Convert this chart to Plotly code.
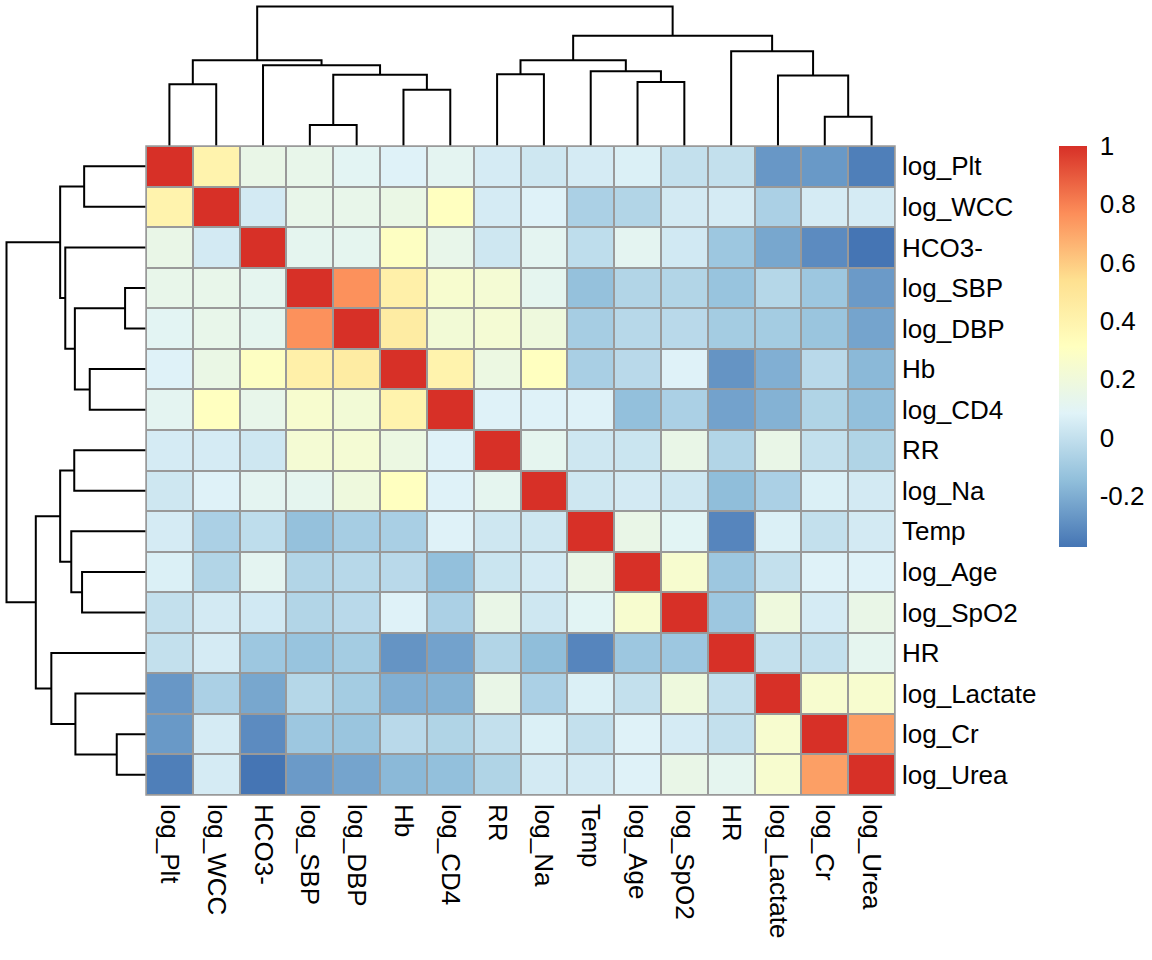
import plotly.graph_objects as go
import numpy as np

# ---------------- data ----------------
labels = ["log_Plt", "log_WCC", "HCO3-", "log_SBP", "log_DBP", "Hb", "log_CD4",
          "RR", "log_Na", "Temp", "log_Age", "log_SpO2", "HR", "log_Lactate",
          "log_Cr", "log_Urea"]

# upper triangle of the correlation matrix (row i, columns i+1..15), display order
upper = [
    [0.40, 0.15, 0.14, 0.105, 0.08, 0.11, 0.05, 0.03, 0.05, 0.07, 0.00, 0.00, -0.27, -0.265, -0.345],
    [0.045, 0.14, 0.14, 0.16, 0.31, 0.05, 0.08, -0.07, -0.05, 0.045, 0.05, -0.07, 0.05, 0.05],
    [0.12, 0.12, 0.30, 0.14, 0.03, 0.11, -0.014, 0.11, 0.04, -0.11, -0.22, -0.307, -0.375],
    [0.76, 0.42, 0.25, 0.23, 0.12, -0.135, -0.05, -0.05, -0.125, -0.04, -0.11, -0.26],
    [0.45, 0.22, 0.23, 0.19, -0.085, -0.035, -0.03, -0.09, -0.09, -0.12, -0.23],
    [0.40, 0.17, 0.31, -0.075, -0.03, 0.08, -0.28, -0.195, -0.03, -0.165],
    [0.08, 0.08, 0.08, -0.14, -0.07, -0.235, -0.185, -0.055, -0.14],
    [0.12, 0.03, 0.02, 0.15, -0.05, 0.15, 0.00, -0.055],
    [0.03, 0.045, 0.03, -0.15, -0.07, 0.07, 0.045],
    [0.15, 0.10, -0.325, 0.07, 0.00, 0.045],
    [0.25, -0.11, 0.00, 0.08, 0.08],
    [-0.11, 0.19, 0.05, 0.15],
    [0.00, 0.00, 0.12],
    [0.25, 0.25],
    [0.72],
]

# hierarchical clustering merges (same for rows and columns):
# (child_a, child_b, height); ids < 16 are leaves, id 16+k is merge k
merges = [
    (3, 4, 0.45),
    (14, 15, 0.629),
    (5, 6, 1.21),
    (0, 1, 1.33),
    (10, 11, 1.375),
    (13, 17, 1.518),
    (16, 18, 1.53),
    (7, 8, 1.543),
    (9, 20, 1.607),
    (2, 22, 1.736),
    (19, 25, 1.846),
    (23, 24, 1.846),
    (12, 21, 2.036),
    (27, 28, 2.37),
    (26, 29, 3.0),
]

colors_rdylbu = ["#4575B4", "#91BFDB", "#E0F3F8", "#FFFFBF", "#FEE090", "#FC8D59", "#D73027"]
legend_ticks = [-0.2, 0, 0.2, 0.4, 0.6, 0.8, 1]

# ---------------- build matrix ----------------
n = len(labels)
mat = np.eye(n)
for i, row in enumerate(upper):
    for k, v in enumerate(row):
        j = i + 1 + k
        mat[i, j] = v
        mat[j, i] = v
zmin, zmax = float(mat.min()), float(mat.max())

# ---------------- dendrogram segments ----------------
def dendro_segments(merges, n):
    pos = {i: float(i) for i in range(n)}
    hgt = {i: 0.0 for i in range(n)}
    xs, ys = [], []
    for k, (a, b, h) in enumerate(merges):
        xa, xb = pos[a], pos[b]
        xs += [xa, xa, xb, xb, None]
        ys += [hgt[a], h, h, hgt[b], None]
        pos[n + k] = (xa + xb) / 2
        hgt[n + k] = h
    return xs, ys

dx, dh = dendro_segments(merges, n)
root_h = max(m[2] for m in merges)

W, H = 1152, 960
hx0, hx1 = 146, 895
hy0, hy1 = 146, 795
root_px = 6.5
top_px = 3
hrange_max = root_h * (hy0 - top_px) / (hy0 - root_px)

font_family = "Liberation Sans, Arial, Helvetica, sans-serif"
fs = 26

idx = list(range(n))
colorscale = [[k / (len(colors_rdylbu) - 1), c] for k, c in enumerate(colors_rdylbu)]

fig = go.Figure()
fig.add_trace(go.Heatmap(
    z=mat, x=idx, y=idx, zmin=zmin, zmax=zmax, colorscale=colorscale,
    xgap=2, ygap=2, hoverongaps=False,
    colorbar=dict(
        x=1059 / W, xanchor="left", xpad=0,
        y=1 - hy0 / H, yanchor="top", ypad=0,
        lenmode="pixels", len=401, thickness=28, thicknessmode="pixels",
        outlinewidth=0, tickvals=legend_ticks,
        ticktext=[("%g" % t) for t in legend_ticks],
        ticks="outside", ticklen=8, tickcolor="rgba(0,0,0,0)",
        tickfont=dict(family=font_family, size=fs, color="black"),
    ),
))

# top dendrogram
fig.add_trace(go.Scatter(x=dx, y=dh, mode="lines", line=dict(color="black", width=2),
                         xaxis="x2", yaxis="y2", hoverinfo="skip", showlegend=False))
# left dendrogram
fig.add_trace(go.Scatter(x=dh, y=dx, mode="lines", line=dict(color="black", width=2),
                         xaxis="x3", yaxis="y3", hoverinfo="skip", showlegend=False))

xdom = [hx0 / W, hx1 / W]
ydom = [1 - hy1 / H, 1 - hy0 / H]
fig.update_layout(
    width=W, height=H, margin=dict(l=0, r=0, t=0, b=0),
    paper_bgcolor="white", plot_bgcolor="white",
    font=dict(family=font_family, size=fs, color="black"),
    xaxis=dict(domain=xdom, range=[-0.5, n - 0.5], tickvals=idx, ticktext=labels,
               tickangle=90, ticks="", showgrid=False, zeroline=False, showline=False,
               ticklabelstandoff=8, tickfont=dict(size=fs)),
    yaxis=dict(domain=ydom, range=[n - 0.5, -0.5], tickvals=idx, ticktext=labels,
               side="right", ticks="", showgrid=False, zeroline=False, showline=False,
               ticklabelstandoff=6, tickfont=dict(size=fs)),
    xaxis2=dict(domain=xdom, range=[-0.5, n - 0.5], visible=False, anchor="y2"),
    yaxis2=dict(domain=[1 - hy0 / H, 1 - top_px / H], range=[0, hrange_max], visible=False, anchor="x2"),
    xaxis3=dict(domain=[top_px / W, hx0 / W], range=[hrange_max, 0], visible=False, anchor="y3"),
    yaxis3=dict(domain=ydom, range=[n - 0.5, -0.5], visible=False, anchor="x3"),
    shapes=[
        dict(type="rect", xref="x domain", yref="y domain", x0=0, x1=1, y0=0, y1=1,
             fillcolor="#999999", line=dict(width=0), layer="below"),
        dict(type="rect", xref="x domain", yref="y domain", x0=0, x1=1, y0=0, y1=1,
             fillcolor="rgba(0,0,0,0)", line=dict(width=1.5, color="#999999"), layer="above"),
    ],
)

fig.write_html("out.html")
